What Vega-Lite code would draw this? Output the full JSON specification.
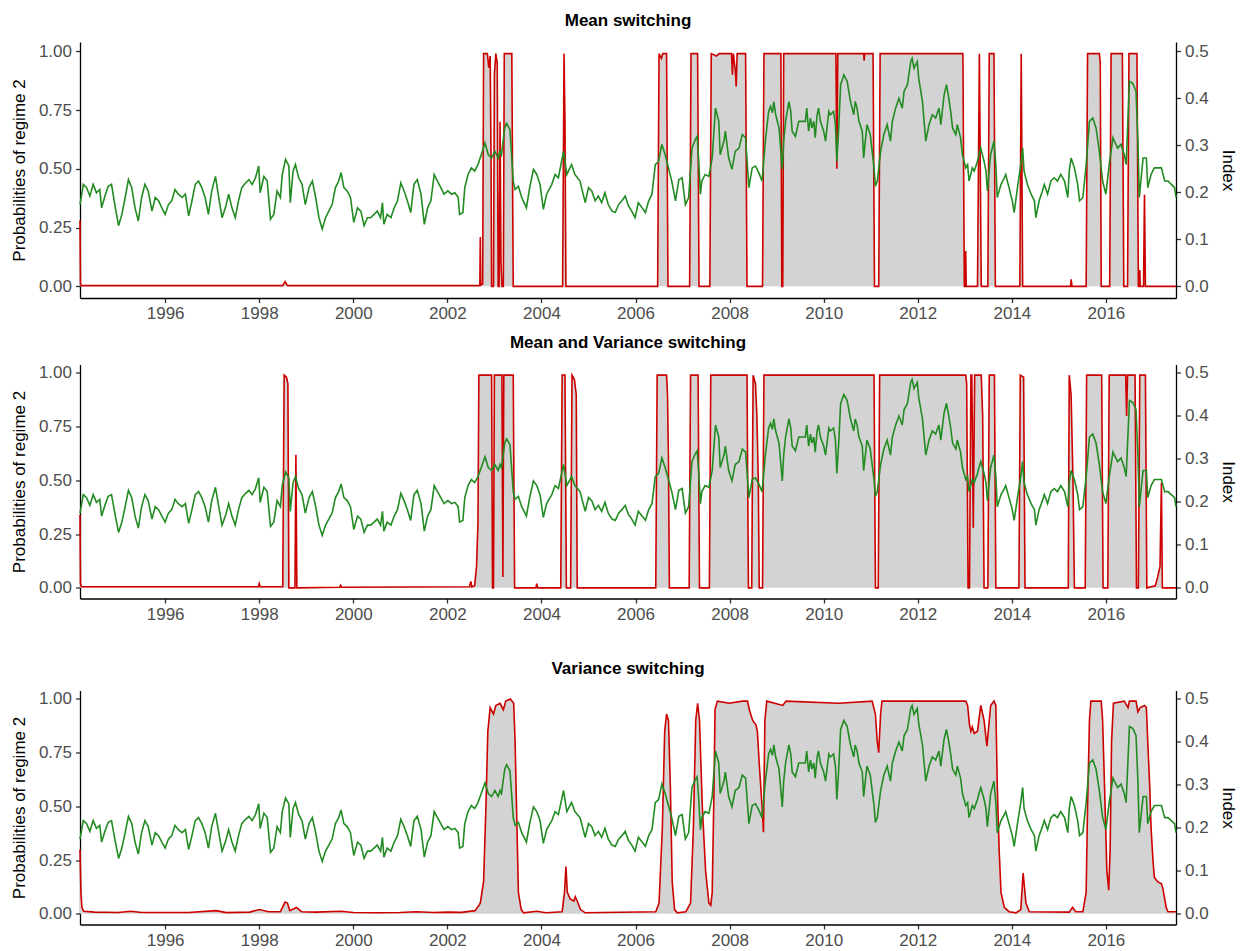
{
"$schema": "https://vega.github.io/schema/vega-lite/v6.json",
"padding": {"left": 10, "top": 12, "right": 5, "bottom": 3},
"config": {
  "font": "Liberation Sans",
  "view": {"stroke": null},
  "axis": {"grid": false, "domainColor": "#000000", "domainWidth": 1.3, "tickColor": "#333333", "tickWidth": 1.3, "tickSize": 4.5, "labelFontSize": 17, "labelColor": "#4d4d4d", "labelPadding": 4, "titleFontSize": 17, "titleFontWeight": "normal", "titleColor": "#000000", "titlePadding": 10, "labelFlush": false},
  "axisX": {"labelPadding": 3},
  "title": {"fontSize": 17, "fontWeight": "bold", "anchor": "middle", "offset": 12, "baseline": "bottom", "color": "#000000"}
},
"datasets": {
"idx": [
{"t":1994.19,"v":0.174},{"t":1994.26,"v":0.217},{"t":1994.33,"v":0.210},{"t":1994.40,"v":0.192},{"t":1994.47,"v":0.217},{"t":1994.54,"v":0.199},{"t":1994.61,"v":0.206},{"t":1994.65,"v":0.167},{"t":1994.72,"v":0.192},{"t":1994.79,"v":0.213},{"t":1994.86,"v":0.217},{"t":1994.93,"v":0.174},{"t":1995.01,"v":0.129},{"t":1995.08,"v":0.153},{"t":1995.15,"v":0.189},{"t":1995.22,"v":0.227},{"t":1995.29,"v":0.210},{"t":1995.36,"v":0.167},{"t":1995.43,"v":0.139},{"t":1995.50,"v":0.189},{"t":1995.57,"v":0.217},{"t":1995.64,"v":0.203},{"t":1995.72,"v":0.160},{"t":1995.79,"v":0.189},{"t":1995.86,"v":0.182},{"t":1995.93,"v":0.167},{"t":1996.00,"v":0.153},{"t":1996.07,"v":0.174},{"t":1996.14,"v":0.182},{"t":1996.21,"v":0.206},{"t":1996.28,"v":0.196},{"t":1996.36,"v":0.189},{"t":1996.43,"v":0.196},{"t":1996.50,"v":0.150},{"t":1996.57,"v":0.182},{"t":1996.64,"v":0.217},{"t":1996.71,"v":0.224},{"t":1996.78,"v":0.210},{"t":1996.85,"v":0.189},{"t":1996.92,"v":0.153},{"t":1996.99,"v":0.203},{"t":1997.07,"v":0.234},{"t":1997.14,"v":0.189},{"t":1997.21,"v":0.146},{"t":1997.28,"v":0.167},{"t":1997.35,"v":0.196},{"t":1997.42,"v":0.167},{"t":1997.49,"v":0.146},{"t":1997.56,"v":0.182},{"t":1997.63,"v":0.210},{"t":1997.71,"v":0.220},{"t":1997.78,"v":0.227},{"t":1997.85,"v":0.217},{"t":1997.92,"v":0.231},{"t":1997.99,"v":0.256},{"t":1998.02,"v":0.199},{"t":1998.10,"v":0.234},{"t":1998.17,"v":0.224},{"t":1998.24,"v":0.143},{"t":1998.31,"v":0.153},{"t":1998.38,"v":0.203},{"t":1998.45,"v":0.189},{"t":1998.49,"v":0.238},{"t":1998.56,"v":0.270},{"t":1998.63,"v":0.256},{"t":1998.66,"v":0.178},{"t":1998.72,"v":0.245},{"t":1998.77,"v":0.259},{"t":1998.84,"v":0.231},{"t":1998.91,"v":0.217},{"t":1998.98,"v":0.174},{"t":1999.06,"v":0.210},{"t":1999.13,"v":0.224},{"t":1999.20,"v":0.189},{"t":1999.27,"v":0.146},{"t":1999.34,"v":0.122},{"t":1999.41,"v":0.146},{"t":1999.48,"v":0.160},{"t":1999.55,"v":0.174},{"t":1999.62,"v":0.210},{"t":1999.69,"v":0.224},{"t":1999.74,"v":0.242},{"t":1999.80,"v":0.210},{"t":1999.87,"v":0.203},{"t":1999.94,"v":0.189},{"t":2000.01,"v":0.136},{"t":2000.09,"v":0.167},{"t":2000.16,"v":0.160},{"t":2000.23,"v":0.129},{"t":2000.30,"v":0.146},{"t":2000.37,"v":0.146},{"t":2000.44,"v":0.153},{"t":2000.51,"v":0.160},{"t":2000.58,"v":0.146},{"t":2000.62,"v":0.178},{"t":2000.65,"v":0.132},{"t":2000.72,"v":0.153},{"t":2000.80,"v":0.146},{"t":2000.87,"v":0.167},{"t":2000.94,"v":0.182},{"t":2001.01,"v":0.220},{"t":2001.08,"v":0.203},{"t":2001.15,"v":0.182},{"t":2001.22,"v":0.157},{"t":2001.29,"v":0.217},{"t":2001.36,"v":0.227},{"t":2001.44,"v":0.196},{"t":2001.51,"v":0.132},{"t":2001.58,"v":0.167},{"t":2001.65,"v":0.182},{"t":2001.72,"v":0.238},{"t":2001.79,"v":0.224},{"t":2001.86,"v":0.210},{"t":2001.93,"v":0.196},
{"t":2002.01,"v":0.203},{"t":2002.09,"v":0.196},{"t":2002.16,"v":0.199},{"t":2002.23,"v":0.189},{"t":2002.26,"v":0.153},{"t":2002.33,"v":0.157},{"t":2002.37,"v":0.210},{"t":2002.44,"v":0.238},{"t":2002.51,"v":0.252},{"t":2002.58,"v":0.245},{"t":2002.65,"v":0.259},{"t":2002.72,"v":0.280},{"t":2002.80,"v":0.305},{"t":2002.87,"v":0.280},{"t":2002.94,"v":0.273},{"t":2003.01,"v":0.287},{"t":2003.08,"v":0.273},{"t":2003.12,"v":0.287},{"t":2003.15,"v":0.280},{"t":2003.22,"v":0.337},{"t":2003.26,"v":0.347},{"t":2003.33,"v":0.333},{"t":2003.36,"v":0.287},{"t":2003.40,"v":0.224},{"t":2003.44,"v":0.206},{"t":2003.51,"v":0.213},{"t":2003.58,"v":0.189},{"t":2003.65,"v":0.174},{"t":2003.68,"v":0.167},{"t":2003.75,"v":0.210},{"t":2003.83,"v":0.249},{"t":2003.90,"v":0.238},{"t":2003.97,"v":0.217},{"t":2004.04,"v":0.164},{"t":2004.11,"v":0.196},{"t":2004.22,"v":0.217},{"t":2004.29,"v":0.238},{"t":2004.36,"v":0.231},{"t":2004.47,"v":0.287},{"t":2004.54,"v":0.238},{"t":2004.64,"v":0.259},{"t":2004.71,"v":0.238},{"t":2004.82,"v":0.224},{"t":2004.93,"v":0.178},{"t":2005.00,"v":0.210},{"t":2005.07,"v":0.203},{"t":2005.14,"v":0.182},{"t":2005.21,"v":0.192},{"t":2005.28,"v":0.178},{"t":2005.35,"v":0.199},{"t":2005.42,"v":0.174},{"t":2005.50,"v":0.160},{"t":2005.57,"v":0.157},{"t":2005.64,"v":0.174},{"t":2005.71,"v":0.182},{"t":2005.78,"v":0.192},{"t":2005.85,"v":0.171},{"t":2005.92,"v":0.160},{"t":2005.99,"v":0.146},{"t":2006.06,"v":0.178},{"t":2006.14,"v":0.167},{"t":2006.21,"v":0.157},{"t":2006.28,"v":0.182},{"t":2006.35,"v":0.196},{"t":2006.42,"v":0.259},{"t":2006.49,"v":0.266},{"t":2006.56,"v":0.302},{"t":2006.63,"v":0.280},{"t":2006.70,"v":0.252},{"t":2006.77,"v":0.224},{"t":2006.85,"v":0.182},{"t":2006.92,"v":0.227},{"t":2006.99,"v":0.231},{"t":2007.06,"v":0.174},{"t":2007.13,"v":0.189},{"t":2007.20,"v":0.294},{"t":2007.27,"v":0.312},{"t":2007.31,"v":0.319},{"t":2007.34,"v":0.273},{"t":2007.38,"v":0.196},{"t":2007.41,"v":0.224},{"t":2007.48,"v":0.238},{"t":2007.56,"v":0.234},{"t":2007.63,"v":0.273},{"t":2007.70,"v":0.379},{"t":2007.77,"v":0.351},{"t":2007.80,"v":0.280},{"t":2007.88,"v":0.309},{"t":2007.91,"v":0.330},{"t":2007.98,"v":0.273},{"t":2008.05,"v":0.249},{"t":2008.12,"v":0.287},{"t":2008.20,"v":0.294},{"t":2008.27,"v":0.323},{"t":2008.34,"v":0.316},{"t":2008.41,"v":0.210},{"t":2008.48,"v":0.252},{"t":2008.55,"v":0.256},{"t":2008.62,"v":0.242},{"t":2008.69,"v":0.224},{"t":2008.76,"v":0.309},{"t":2008.83,"v":0.372},{"t":2008.87,"v":0.383},{"t":2008.91,"v":0.369},{"t":2008.94,"v":0.393},{"t":2008.98,"v":0.365},{"t":2009.05,"v":0.337},{"t":2009.12,"v":0.249},{"t":2009.15,"v":0.309},{"t":2009.19,"v":0.351},{"t":2009.26,"v":0.393},{"t":2009.30,"v":0.372},{"t":2009.33,"v":0.330},{"t":2009.40,"v":0.319},{"t":2009.47,"v":0.351},{"t":2009.55,"v":0.351},
{"t":2009.61,"v":0.351},{"t":2009.64,"v":0.379},{"t":2009.68,"v":0.330},{"t":2009.72,"v":0.358},{"t":2009.75,"v":0.337},{"t":2009.79,"v":0.351},{"t":2009.82,"v":0.316},{"t":2009.86,"v":0.365},{"t":2009.89,"v":0.379},{"t":2009.93,"v":0.351},{"t":2010.00,"v":0.330},{"t":2010.04,"v":0.309},{"t":2010.07,"v":0.337},{"t":2010.11,"v":0.372},{"t":2010.14,"v":0.365},{"t":2010.21,"v":0.372},{"t":2010.25,"v":0.344},{"t":2010.28,"v":0.266},{"t":2010.32,"v":0.337},{"t":2010.36,"v":0.429},{"t":2010.43,"v":0.450},{"t":2010.50,"v":0.436},{"t":2010.57,"v":0.393},{"t":2010.64,"v":0.365},{"t":2010.67,"v":0.393},{"t":2010.71,"v":0.379},{"t":2010.75,"v":0.351},{"t":2010.82,"v":0.330},{"t":2010.85,"v":0.273},{"t":2010.92,"v":0.344},{"t":2010.99,"v":0.323},{"t":2011.07,"v":0.252},{"t":2011.10,"v":0.213},{"t":2011.14,"v":0.224},{"t":2011.21,"v":0.287},{"t":2011.28,"v":0.323},{"t":2011.35,"v":0.344},{"t":2011.42,"v":0.309},{"t":2011.46,"v":0.351},{"t":2011.53,"v":0.379},{"t":2011.60,"v":0.400},{"t":2011.67,"v":0.379},{"t":2011.71,"v":0.415},{"t":2011.78,"v":0.429},{"t":2011.85,"v":0.478},{"t":2011.88,"v":0.485},{"t":2011.92,"v":0.464},{"t":2011.99,"v":0.478},{"t":2012.02,"v":0.443},{"t":2012.10,"v":0.393},{"t":2012.17,"v":0.309},{"t":2012.24,"v":0.344},{"t":2012.31,"v":0.365},{"t":2012.38,"v":0.358},{"t":2012.45,"v":0.379},{"t":2012.49,"v":0.344},{"t":2012.56,"v":0.407},{"t":2012.61,"v":0.429},{"t":2012.66,"v":0.400},{"t":2012.70,"v":0.372},{"t":2012.74,"v":0.337},{"t":2012.81,"v":0.323},{"t":2012.84,"v":0.344},{"t":2012.91,"v":0.316},{"t":2012.95,"v":0.280},{"t":2013.02,"v":0.252},{"t":2013.06,"v":0.259},{"t":2013.09,"v":0.224},{"t":2013.16,"v":0.252},{"t":2013.20,"v":0.245},{"t":2013.27,"v":0.266},{"t":2013.30,"v":0.280},{"t":2013.34,"v":0.294},{"t":2013.41,"v":0.266},{"t":2013.45,"v":0.245},{"t":2013.48,"v":0.203},{"t":2013.55,"v":0.280},{"t":2013.62,"v":0.309},{"t":2013.66,"v":0.259},{"t":2013.69,"v":0.189},{"t":2013.77,"v":0.217},{"t":2013.84,"v":0.231},{"t":2013.87,"v":0.238},{"t":2013.94,"v":0.210},{"t":2014.01,"v":0.182},{"t":2014.05,"v":0.157},{"t":2014.12,"v":0.210},{"t":2014.19,"v":0.259},{"t":2014.23,"v":0.294},{"t":2014.26,"v":0.245},{"t":2014.33,"v":0.217},{"t":2014.41,"v":0.196},{"t":2014.48,"v":0.182},{"t":2014.51,"v":0.146},{"t":2014.58,"v":0.182},{"t":2014.65,"v":0.203},{"t":2014.69,"v":0.217},{"t":2014.76,"v":0.196},{"t":2014.83,"v":0.224},{"t":2014.90,"v":0.231},{"t":2014.97,"v":0.224},{"t":2015.04,"v":0.238},{"t":2015.12,"v":0.224},{"t":2015.19,"v":0.189},{"t":2015.22,"v":0.245},{"t":2015.26,"v":0.273},{"t":2015.33,"v":0.252},{"t":2015.40,"v":0.217},{"t":2015.44,"v":0.182},{"t":2015.51,"v":0.189},{"t":2015.58,"v":0.259},{"t":2015.65,"v":0.351},{"t":2015.72,"v":0.358},{"t":2015.79,"v":0.337},{"t":2015.86,"v":0.287},{"t":2015.93,"v":0.224},{"t":2016.00,"v":0.196},{"t":2016.07,"v":0.259},{"t":2016.15,"v":0.316},{"t":2016.18,"v":0.309},{"t":2016.25,"v":0.294},{"t":2016.32,"v":0.302},{"t":2016.39,"v":0.280},{"t":2016.43,"v":0.259},{"t":2016.50,"v":0.436},{"t":2016.57,"v":0.432},{"t":2016.64,"v":0.415},{"t":2016.68,"v":0.309},{"t":2016.71,"v":0.189},{"t":2016.79,"v":0.273},{"t":2016.86,"v":0.273},{"t":2016.89,"v":0.210},{"t":2016.96,"v":0.238},{"t":2017.03,"v":0.252},{"t":2017.10,"v":0.252},{"t":2017.18,"v":0.252},{"t":2017.25,"v":0.224},{"t":2017.32,"v":0.224},{"t":2017.39,"v":0.217},{"t":2017.46,"v":0.210},{"t":2017.49,"v":0.189}
],
"mean": [
{"t":1994.19,"p":0.28},{"t":1994.2,"p":0.01},{"t":1994.22,"p":0.003},{"t":1998.5,"p":0.003},{"t":1998.55,"p":0.02},{"t":1998.6,"p":0.003},{"t":2002.69,"p":0.003},{"t":2002.70,"p":0.21},{"t":2002.71,"p":0.005},{"t":2002.75,"p":0.01},{"t":2002.77,"p":0.99},{"t":2002.85,"p":0.99},{"t":2002.88,"p":0.93},{"t":2002.91,"p":0.98},{"t":2002.93,"p":0.5},{"t":2002.94,"p":0.0},{"t":2002.98,"p":0.0},{"t":2003.00,"p":0.9},{"t":2003.03,"p":0.99},{"t":2003.06,"p":0.95},{"t":2003.08,"p":0.0},{"t":2003.10,"p":0.0},{"t":2003.12,"p":0.7},{"t":2003.14,"p":0.1},{"t":2003.16,"p":0.0},{"t":2003.19,"p":0.0},{"t":2003.21,"p":0.99},{"t":2003.37,"p":0.99},{"t":2003.40,"p":0.0},{"t":2004.45,"p":0.0},{"t":2004.48,"p":0.99},{"t":2004.50,"p":0.7},{"t":2004.52,"p":0.0},{"t":2006.47,"p":0.0},{"t":2006.50,"p":0.99},{"t":2006.55,"p":0.97},{"t":2006.58,"p":0.99},{"t":2006.66,"p":0.99},{"t":2006.69,"p":0.0},{"t":2007.15,"p":0.0},{"t":2007.18,"p":0.99},{"t":2007.32,"p":0.99},{"t":2007.35,"p":0.0},{"t":2007.58,"p":0.0},{"t":2007.61,"p":0.99},{"t":2007.72,"p":0.98},{"t":2007.78,"p":0.99},{"t":2008.04,"p":0.99},{"t":2008.06,"p":0.9},{"t":2008.08,"p":0.99},{"t":2008.12,"p":0.92},{"t":2008.14,"p":0.85},{"t":2008.16,"p":0.99},{"t":2008.34,"p":0.99},{"t":2008.37,"p":0.0},{"t":2008.70,"p":0.0},{"t":2008.73,"p":0.99},{"t":2009.09,"p":0.99},{"t":2009.11,"p":0.0},{"t":2009.13,"p":0.0},{"t":2009.15,"p":0.99},{"t":2010.26,"p":0.99},{"t":2010.28,"p":0.5},{"t":2010.30,"p":0.99},{"t":2010.85,"p":0.99},{"t":2010.86,"p":0.96},{"t":2010.87,"p":0.99},{"t":2011.05,"p":0.99},{"t":2011.08,"p":0.0},{"t":2011.17,"p":0.0},{"t":2011.20,"p":0.99},{"t":2012.96,"p":0.99},{"t":2012.99,"p":0.0},{"t":2013.01,"p":0.0},{"t":2013.02,"p":0.15},{"t":2013.03,"p":0.0},{"t":2013.27,"p":0.0},{"t":2013.31,"p":0.99},{"t":2013.35,"p":0.0},{"t":2013.49,"p":0.0},{"t":2013.52,"p":0.99},{"t":2013.62,"p":0.99},{"t":2013.65,"p":0.0},{"t":2014.17,"p":0.0},{"t":2014.20,"p":0.99},{"t":2014.23,"p":0.0},{"t":2015.25,"p":0.0},{"t":2015.26,"p":0.03},{"t":2015.28,"p":0.0},{"t":2015.58,"p":0.0},{"t":2015.61,"p":0.99},{"t":2015.86,"p":0.99},{"t":2015.88,"p":0.95},{"t":2015.90,"p":0.0},{"t":2016.08,"p":0.0},{"t":2016.11,"p":0.99},{"t":2016.35,"p":0.99},{"t":2016.38,"p":0.0},{"t":2016.46,"p":0.0},{"t":2016.49,"p":0.99},{"t":2016.66,"p":0.99},{"t":2016.69,"p":0.0},{"t":2016.71,"p":0.0},{"t":2016.72,"p":0.07},{"t":2016.73,"p":0.0},{"t":2016.80,"p":0.0},{"t":2016.82,"p":0.39},{"t":2016.84,"p":0.0},{"t":2017.49,"p":0.0}
],
"meanvar": [
{"t":1994.19,"p":0.34},{"t":1994.2,"p":0.02},{"t":1994.22,"p":0.005},{"t":1997.98,"p":0.005},{"t":1998.00,"p":0.02},{"t":1998.02,"p":0.005},{"t":1998.50,"p":0.005},{"t":1998.53,"p":0.99},{"t":1998.58,"p":0.98},{"t":1998.61,"p":0.95},{"t":1998.63,"p":0.0},{"t":1998.76,"p":0.0},{"t":1998.78,"p":0.62},{"t":1998.80,"p":0.0},{"t":1999.71,"p":0.003},{"t":1999.73,"p":0.012},{"t":1999.75,"p":0.003},{"t":2002.47,"p":0.005},{"t":2002.50,"p":0.03},{"t":2002.52,"p":0.005},{"t":2002.58,"p":0.01},{"t":2002.62,"p":0.1},{"t":2002.65,"p":0.3},{"t":2002.67,"p":0.99},{"t":2002.94,"p":0.99},{"t":2002.96,"p":0.0},{"t":2002.98,"p":0.0},{"t":2003.00,"p":0.99},{"t":2003.16,"p":0.99},{"t":2003.18,"p":0.05},{"t":2003.20,"p":0.99},{"t":2003.40,"p":0.99},{"t":2003.43,"p":0.0},{"t":2003.88,"p":0.0},{"t":2003.90,"p":0.02},{"t":2003.92,"p":0.0},{"t":2004.41,"p":0.0},{"t":2004.44,"p":0.99},{"t":2004.50,"p":0.99},{"t":2004.53,"p":0.0},{"t":2004.62,"p":0.0},{"t":2004.65,"p":0.99},{"t":2004.70,"p":0.97},{"t":2004.74,"p":0.9},{"t":2004.76,"p":0.0},{"t":2006.43,"p":0.0},{"t":2006.46,"p":0.99},{"t":2006.66,"p":0.99},{"t":2006.68,"p":0.9},{"t":2006.70,"p":0.6},{"t":2006.72,"p":0.0},{"t":2007.14,"p":0.0},{"t":2007.17,"p":0.99},{"t":2007.33,"p":0.99},{"t":2007.36,"p":0.0},{"t":2007.57,"p":0.0},{"t":2007.60,"p":0.99},{"t":2008.37,"p":0.99},{"t":2008.40,"p":0.0},{"t":2008.47,"p":0.0},{"t":2008.50,"p":0.99},{"t":2008.55,"p":0.95},{"t":2008.58,"p":0.8},{"t":2008.61,"p":0.5},{"t":2008.63,"p":0.0},{"t":2008.70,"p":0.0},{"t":2008.73,"p":0.99},{"t":2011.07,"p":0.99},{"t":2011.10,"p":0.0},{"t":2011.16,"p":0.0},{"t":2011.19,"p":0.99},{"t":2013.02,"p":0.99},{"t":2013.04,"p":0.95},{"t":2013.07,"p":0.0},{"t":2013.10,"p":0.0},{"t":2013.13,"p":0.99},{"t":2013.15,"p":0.99},{"t":2013.18,"p":0.28},{"t":2013.21,"p":0.99},{"t":2013.35,"p":0.99},{"t":2013.38,"p":0.8},{"t":2013.41,"p":0.0},{"t":2013.49,"p":0.0},{"t":2013.52,"p":0.99},{"t":2013.63,"p":0.99},{"t":2013.66,"p":0.0},{"t":2014.15,"p":0.0},{"t":2014.18,"p":0.99},{"t":2014.25,"p":0.98},{"t":2014.28,"p":0.0},{"t":2015.20,"p":0.0},{"t":2015.22,"p":0.99},{"t":2015.26,"p":0.9},{"t":2015.30,"p":0.5},{"t":2015.33,"p":0.0},{"t":2015.56,"p":0.0},{"t":2015.59,"p":0.99},{"t":2015.91,"p":0.99},{"t":2015.94,"p":0.0},{"t":2016.04,"p":0.0},{"t":2016.07,"p":0.99},{"t":2016.42,"p":0.99},{"t":2016.44,"p":0.8},{"t":2016.46,"p":0.99},{"t":2016.62,"p":0.99},{"t":2016.65,"p":0.0},{"t":2016.69,"p":0.0},{"t":2016.72,"p":0.99},{"t":2016.84,"p":0.99},{"t":2016.87,"p":0.0},{"t":2017.05,"p":0.01},{"t":2017.10,"p":0.05},{"t":2017.15,"p":0.1},{"t":2017.18,"p":0.49},{"t":2017.20,"p":0.0},{"t":2017.49,"p":0.0}
],
"var": [
{"t":1994.19,"p":0.30},{"t":1994.21,"p":0.1},{"t":1994.23,"p":0.03},{"t":1994.27,"p":0.012},{"t":1994.5,"p":0.008},{"t":1995.0,"p":0.006},{"t":1995.27,"p":0.012},{"t":1995.5,"p":0.006},{"t":1996.0,"p":0.006},{"t":1996.5,"p":0.006},{"t":1997.08,"p":0.015},{"t":1997.3,"p":0.006},{"t":1997.8,"p":0.008},{"t":1998.0,"p":0.02},{"t":1998.2,"p":0.01},{"t":1998.45,"p":0.01},{"t":1998.55,"p":0.055},{"t":1998.6,"p":0.05},{"t":1998.65,"p":0.015},{"t":1998.79,"p":0.03},{"t":1998.9,"p":0.01},{"t":1999.2,"p":0.008},{"t":1999.74,"p":0.012},{"t":2000.0,"p":0.006},{"t":2000.5,"p":0.005},{"t":2001.0,"p":0.006},{"t":2001.34,"p":0.01},{"t":2001.7,"p":0.006},{"t":2002.0,"p":0.008},{"t":2002.3,"p":0.007},{"t":2002.59,"p":0.015},{"t":2002.70,"p":0.05},{"t":2002.77,"p":0.15},{"t":2002.82,"p":0.5},{"t":2002.86,"p":0.85},{"t":2002.91,"p":0.96},{"t":2002.98,"p":0.93},{"t":2003.03,"p":0.97},{"t":2003.12,"p":0.98},{"t":2003.19,"p":0.95},{"t":2003.24,"p":0.99},{"t":2003.34,"p":1.0},{"t":2003.41,"p":0.98},{"t":2003.44,"p":0.8},{"t":2003.48,"p":0.4},{"t":2003.51,"p":0.1},{"t":2003.57,"p":0.02},{"t":2003.62,"p":0.005},{"t":2003.90,"p":0.012},{"t":2004.1,"p":0.005},{"t":2004.44,"p":0.01},{"t":2004.49,"p":0.1},{"t":2004.52,"p":0.22},{"t":2004.55,"p":0.1},{"t":2004.61,"p":0.07},{"t":2004.69,"p":0.06},{"t":2004.72,"p":0.08},{"t":2004.76,"p":0.06},{"t":2004.83,"p":0.02},{"t":2004.93,"p":0.005},{"t":2006.43,"p":0.01},{"t":2006.50,"p":0.05},{"t":2006.57,"p":0.4},{"t":2006.62,"p":0.85},{"t":2006.66,"p":0.93},{"t":2006.70,"p":0.9},{"t":2006.74,"p":0.6},{"t":2006.78,"p":0.15},{"t":2006.83,"p":0.02},{"t":2006.89,"p":0.005},{"t":2007.07,"p":0.01},{"t":2007.17,"p":0.05},{"t":2007.23,"p":0.4},{"t":2007.28,"p":0.9},{"t":2007.32,"p":0.98},{"t":2007.36,"p":0.9},{"t":2007.42,"p":0.5},{"t":2007.49,"p":0.2},{"t":2007.56,"p":0.05},{"t":2007.60,"p":0.04},{"t":2007.63,"p":0.1},{"t":2007.67,"p":0.6},{"t":2007.69,"p":0.95},{"t":2007.74,"p":0.99},{"t":2007.99,"p":0.98},{"t":2008.27,"p":0.99},{"t":2008.38,"p":0.99},{"t":2008.42,"p":0.95},{"t":2008.49,"p":0.9},{"t":2008.56,"p":0.88},{"t":2008.59,"p":0.85},{"t":2008.63,"p":0.7},{"t":2008.69,"p":0.5},{"t":2008.72,"p":0.38},{"t":2008.75,"p":0.9},{"t":2008.79,"p":0.99},{"t":2009.13,"p":0.97},{"t":2009.2,"p":0.99},{"t":2010.32,"p":0.98},{"t":2011.03,"p":0.99},{"t":2011.10,"p":0.93},{"t":2011.14,"p":0.8},{"t":2011.17,"p":0.75},{"t":2011.21,"p":0.93},{"t":2011.24,"p":0.99},{"t":2013.02,"p":0.99},{"t":2013.06,"p":0.97},{"t":2013.10,"p":0.88},{"t":2013.13,"p":0.85},{"t":2013.16,"p":0.87},{"t":2013.20,"p":0.84},{"t":2013.27,"p":0.85},{"t":2013.34,"p":0.97},{"t":2013.41,"p":0.9},{"t":2013.47,"p":0.78},{"t":2013.55,"p":0.97},{"t":2013.62,"p":0.99},{"t":2013.66,"p":0.97},{"t":2013.69,"p":0.6},{"t":2013.73,"p":0.3},{"t":2013.77,"p":0.1},{"t":2013.84,"p":0.03},{"t":2013.94,"p":0.01},{"t":2014.09,"p":0.005},{"t":2014.19,"p":0.02},{"t":2014.24,"p":0.19},{"t":2014.30,"p":0.05},{"t":2014.37,"p":0.01},{"t":2015.22,"p":0.008},{"t":2015.29,"p":0.03},{"t":2015.36,"p":0.01},{"t":2015.51,"p":0.01},{"t":2015.58,"p":0.1},{"t":2015.61,"p":0.5},{"t":2015.65,"p":0.9},{"t":2015.68,"p":0.99},{"t":2015.90,"p":0.99},{"t":2015.93,"p":0.9},{"t":2015.97,"p":0.6},{"t":2016.02,"p":0.2},{"t":2016.06,"p":0.11},{"t":2016.09,"p":0.3},{"t":2016.12,"p":0.8},{"t":2016.16,"p":0.98},{"t":2016.39,"p":0.99},{"t":2016.47,"p":0.96},{"t":2016.50,"p":0.99},{"t":2016.64,"p":0.99},{"t":2016.68,"p":0.94},{"t":2016.73,"p":0.96},{"t":2016.82,"p":0.97},{"t":2016.86,"p":0.96},{"t":2016.89,"p":0.8},{"t":2016.93,"p":0.6},{"t":2016.96,"p":0.4},{"t":2017.00,"p":0.25},{"t":2017.03,"p":0.17},{"t":2017.10,"p":0.15},{"t":2017.18,"p":0.14},{"t":2017.21,"p":0.12},{"t":2017.25,"p":0.07},{"t":2017.28,"p":0.03},{"t":2017.32,"p":0.01},{"t":2017.49,"p":0.01}
]
},
"spacing": 11.5,
"vconcat": [
{
  "title": "Mean switching",
  "width": 1096, "height": 256,
  "layer": [
    {"data": {"name": "mean"},
     "encoding": {
       "x": {"field": "t", "type": "quantitative", "scale": {"domain": [1994.19, 2017.49], "nice": false, "zero": false}, "axis": {"title": null, "values": [1996,1998,2000,2002,2004,2006,2008,2010,2012,2014,2016], "format": "d"}},
       "y": {"field": "p", "type": "quantitative", "scale": {"domain": [-0.0495, 1.0395], "nice": false, "zero": false}, "axis": {"title": "Probabilities of regime 2", "orient": "left", "values": [0,0.25,0.5,0.75,1], "format": ".2f"}}
     },
     "layer": [
       {"mark": {"type": "area", "color": "#D3D3D3", "opacity": 1}, "encoding": {"y2": {"datum": 0}}},
       {"mark": {"type": "line", "color": "#CD0000", "strokeWidth": 1.6}}
     ]},
    {"data": {"name": "idx"},
     "mark": {"type": "line", "color": "#228B22", "strokeWidth": 1.6},
     "encoding": {
       "x": {"field": "t", "type": "quantitative"},
       "y": {"field": "v", "type": "quantitative", "scale": {"domain": [-0.02475, 0.51975], "nice": false, "zero": false}, "axis": {"title": "Index", "orient": "right", "values": [0,0.1,0.2,0.3,0.4,0.5], "format": ".1f"}}
     }}
  ],
  "resolve": {"scale": {"y": "independent"}}
},
{
  "spacing": 37,
  "vconcat": [
  {
    "title": "Mean and Variance switching",
    "width": 1096, "height": 234,
    "layer": [
      {"data": {"name": "meanvar"},
       "encoding": {
         "x": {"field": "t", "type": "quantitative", "scale": {"domain": [1994.19, 2017.49], "nice": false, "zero": false}, "axis": {"title": null, "values": [1996,1998,2000,2002,2004,2006,2008,2010,2012,2014,2016], "format": "d"}},
         "y": {"field": "p", "type": "quantitative", "scale": {"domain": [-0.0495, 1.0395], "nice": false, "zero": false}, "axis": {"title": "Probabilities of regime 2", "orient": "left", "values": [0,0.25,0.5,0.75,1], "format": ".2f"}}
       },
       "layer": [
         {"mark": {"type": "area", "color": "#D3D3D3", "opacity": 1}, "encoding": {"y2": {"datum": 0}}},
         {"mark": {"type": "line", "color": "#CD0000", "strokeWidth": 1.6}}
       ]},
      {"data": {"name": "idx"},
       "mark": {"type": "line", "color": "#228B22", "strokeWidth": 1.6},
       "encoding": {
         "x": {"field": "t", "type": "quantitative"},
         "y": {"field": "v", "type": "quantitative", "scale": {"domain": [-0.02475, 0.51975], "nice": false, "zero": false}, "axis": {"title": "Index", "orient": "right", "values": [0,0.1,0.2,0.3,0.4,0.5], "format": ".1f"}}
       }}
    ],
    "resolve": {"scale": {"y": "independent"}}
  },
  {
    "title": "Variance switching",
    "width": 1096, "height": 234,
    "layer": [
      {"data": {"name": "var"},
       "encoding": {
         "x": {"field": "t", "type": "quantitative", "scale": {"domain": [1994.19, 2017.49], "nice": false, "zero": false}, "axis": {"title": null, "values": [1996,1998,2000,2002,2004,2006,2008,2010,2012,2014,2016], "format": "d"}},
         "y": {"field": "p", "type": "quantitative", "scale": {"domain": [-0.0495, 1.0395], "nice": false, "zero": false}, "axis": {"title": "Probabilities of regime 2", "orient": "left", "values": [0,0.25,0.5,0.75,1], "format": ".2f"}}
       },
       "layer": [
         {"mark": {"type": "area", "color": "#D3D3D3", "opacity": 1}, "encoding": {"y2": {"datum": 0}}},
         {"mark": {"type": "line", "color": "#CD0000", "strokeWidth": 1.6}}
       ]},
      {"data": {"name": "idx"},
       "mark": {"type": "line", "color": "#228B22", "strokeWidth": 1.6},
       "encoding": {
         "x": {"field": "t", "type": "quantitative"},
         "y": {"field": "v", "type": "quantitative", "scale": {"domain": [-0.02475, 0.51975], "nice": false, "zero": false}, "axis": {"title": "Index", "orient": "right", "values": [0,0.1,0.2,0.3,0.4,0.5], "format": ".1f"}}
       }}
    ],
    "resolve": {"scale": {"y": "independent"}}
  }
  ]
}
]
}
